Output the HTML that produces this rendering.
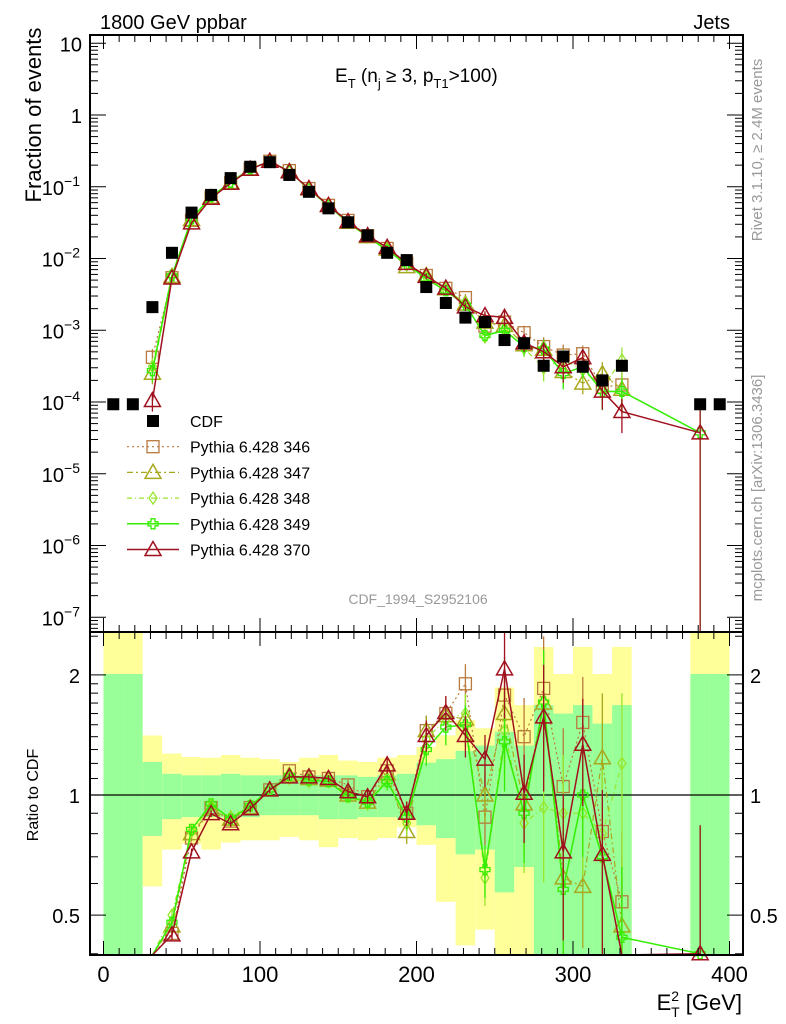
<!DOCTYPE html>
<html><head><meta charset="utf-8"><style>
html,body{margin:0;padding:0;background:#fff}
svg{display:block;font-family:"Liberation Sans",sans-serif}
</style></head><body>
<svg id="chart" width="786" height="1024" viewBox="0 0 786 1024" xmlns="http://www.w3.org/2000/svg">
<g id="bands"></g>
<g id="ratioSeries"></g>
<g id="mainSeries"></g>
<g id="axes"></g>
<text x="100" y="29" font-size="20">1800 GeV ppbar</text>
<text x="730" y="29" font-size="20" text-anchor="end">Jets</text>
<text transform="translate(41,115) rotate(-90)" font-size="22" text-anchor="middle">Fraction of events</text>
<text transform="translate(38,795) rotate(-90)" font-size="16" text-anchor="middle">Ratio to CDF</text>
<text transform="translate(762,150) rotate(-90)" font-size="15" fill="#999" text-anchor="middle">Rivet 3.1.10, ≥ 2.4M events</text>
<text transform="translate(762,488) rotate(-90)" font-size="15" fill="#999" text-anchor="middle">mcplots.cern.ch [arXiv:1306.3436]</text>
<text x="335" y="82" font-size="19">E<tspan font-size="13" dy="6">T</tspan><tspan dy="-6"> (n</tspan><tspan font-size="13" dy="6">j</tspan><tspan dy="-6"> ≥ 3, p</tspan><tspan font-size="13" dy="6">T1</tspan><tspan dy="-6">&gt;100)</tspan></text>
<text x="418" y="604" font-size="14" fill="#999" text-anchor="middle">CDF_1994_S2952106</text>
<text x="742" y="1010" font-size="22" text-anchor="end">E<tspan font-size="14" dy="-9">2</tspan><tspan font-size="14" dx="-8" dy="16">T</tspan><tspan dy="-7"> [GeV]</tspan></text>
<g id="legend"></g>
</svg>
<script>
const cdfX = [6.25,18.75,31.25,43.75,56.25,68.75,81.25,93.75,106.25,118.75,131.25,143.75,156.25,168.75,181.25,193.75,206.25,218.75,231.25,243.75,256.25,268.75,281.25,293.75,306.25,318.75,331.25,381.25,393.75];
const cdfY = [9.3e-5,9.3e-5,2.1e-3,1.2e-2,0.0436,0.077,0.132,0.19,0.22,0.146,0.085,0.05,0.032,0.021,0.012,0.0095,0.004,0.0024,0.0015,0.0013,7.3e-4,6.6e-4,3.2e-4,4.3e-4,3.1e-4,2.0e-4,3.2e-4,9.3e-5,9.3e-5];
const bandYTop = [3,3,1.41,1.27,1.245,1.24,1.26,1.24,1.23,1.21,1.24,1.26,1.22,1.21,1.24,1.26,1.32,1.41,1.54,1.47,1.86,1.68,2.35,2.01,2.35,2.01,2.35,3,3];
const bandGTop = [2.01,2.01,1.21,1.13,1.12,1.12,1.13,1.12,1.12,1.12,1.12,1.12,1.12,1.11,1.12,1.13,1.205,1.23,1.29,1.33,1.44,1.33,1.68,1.6,1.68,1.51,1.68,2.01,2.01];
const bandGBot = [0.3,0.3,0.79,0.87,0.88,0.88,0.88,0.88,0.89,0.89,0.89,0.87,0.87,0.88,0.88,0.87,0.84,0.78,0.71,0.73,0.57,0.66,0.3,0.3,0.3,0.3,0.3,0.3,0.3];
const bandYBot = [0.3,0.3,0.59,0.73,0.755,0.73,0.76,0.77,0.77,0.785,0.77,0.74,0.78,0.77,0.78,0.83,0.75,0.54,0.42,0.46,0.3,0.3,0.3,0.3,0.3,0.3,0.3,0.3,0.3];
const mcX = [31.25,43.75,56.25,68.75,81.25,93.75,106.25,118.75,131.25,143.75,156.25,168.75,181.25,193.75,206.25,218.75,231.25,243.75,256.25,268.75,281.25,293.75,306.25,318.75,331.25,381.25];
const r346 = [0.2,0.45,0.78,0.93,0.86,0.93,1.03,1.15,1.11,1.10,1.06,0.99,1.15,0.90,1.45,1.6,1.9,0.88,1.78,1.4,1.85,1.05,1.52,0.81,0.54,null];
const r347 = [0.12,0.47,0.80,0.92,0.87,0.93,1.03,1.12,1.10,1.09,1.00,0.96,1.13,0.81,1.45,1.58,1.55,1.0,1.6,0.95,1.7,0.62,0.59,1.24,0.47,null];
const r348 = [0.15,0.50,0.81,0.94,0.88,0.94,1.03,1.10,1.08,1.08,0.99,0.95,1.10,0.85,1.38,1.55,1.6,0.62,1.45,0.85,0.93,0.9,0.9,0.8,1.2,null];
const r349 = [0.13,0.48,0.82,0.95,0.87,0.94,1.03,1.12,1.09,1.08,0.99,0.96,1.08,0.88,1.3,1.48,1.5,0.65,1.36,0.9,1.71,0.58,1.0,0.7,0.44,0.4];
const r370 = [0.05,0.446,0.72,0.898,0.847,0.924,1.03,1.11,1.11,1.10,1.02,0.99,1.19,0.90,1.41,1.61,1.41,1.23,2.07,1.01,1.57,0.72,1.34,0.71,0.23,0.4];
const relErr = [0.3,0.03,0.02,0.02,0.02,0.02,0.02,0.02,0.02,0.02,0.03,0.04,0.05,0.07,0.09,0.1,0.12,0.15,0.25,0.25,0.35,0.4,0.3,0.45,0.5,1.1];
const seriesNames = ["Pythia 6.428 346","Pythia 6.428 347","Pythia 6.428 348","Pythia 6.428 349","Pythia 6.428 370"];
const xTickLabels = ["0","100","200","300","400"];

const NS="http://www.w3.org/2000/svg";
const L=90,R=743,T=35,MB=632,RB=955;
const X=v=>103.5+v*1.565;
const YM=v=>115-71.75*Math.log10(v);
const YR=v=>795-399*Math.log10(v);
function mk(tag,parent,attrs){const e=document.createElementNS(NS,tag);for(const k in attrs)e.setAttribute(k,attrs[k]);parent.appendChild(e);return e;}
const bands=document.getElementById('bands'),rs=document.getElementById('ratioSeries'),ms=document.getElementById('mainSeries'),ax=document.getElementById('axes'),lg=document.getElementById('legend');
cdfX.forEach((c,i)=>{
  const x0=X(c-6.25),x1=X(c+6.25);
  const yt=Math.max(MB,YR(bandYTop[i])),yb=Math.min(RB,YR(bandYBot[i]));
  const r1=mk('rect',bands,{x:x0,y:yt,width:x1-x0,height:yb-yt,fill:'#ffff99'});
  
  
  const gt=Math.max(MB,YR(bandGTop[i])),gb=Math.min(RB,YR(bandGBot[i]));
  const r2=mk('rect',bands,{x:x0,y:gt,width:x1-x0,height:gb-gt,fill:'#99ff99'});
  
  
});
const unity=mk('line',bands,{x1:L,x2:R,y1:YR(1),y2:YR(1),stroke:'#000','stroke-width':1.3});


const styles=[
 {c:'#b87a3d',d:'2,3',m:'square',w:1.2},
 {c:'#a8a81e',d:'6,3,2,3',m:'tri',w:1.2},
 {c:'#99e62e',d:'5,3,1,3',m:'diamond',w:1.2},
 {c:'#33ee00',d:'',m:'cross',w:1.5},
 {c:'#a0101e',d:'',m:'tri',w:1.5}];
const ratios=[r346,r347,r348,r349,r370];
function marker(g,kind,x,y,col){
  if(kind==='square')return mk('rect',g,{x:x-6,y:y-6,width:12,height:12,fill:'none',stroke:col,'stroke-width':1.3});
  if(kind==='tri')return mk('polygon',g,{points:`${x},${y-8} ${x-8},${y+6} ${x+8},${y+6}`,fill:'none',stroke:col,'stroke-width':1.5});
  if(kind==='diamond')return mk('polygon',g,{points:`${x},${y-6} ${x-4},${y} ${x},${y+6} ${x+4},${y}`,fill:'none',stroke:col,'stroke-width':1.3});
  return mk('path',g,{d:`M${x-2},${y-5}h4v3h3v4h-3v3h-4v-3h-3v-4h3z`,fill:'none',stroke:col,'stroke-width':1.3});
}
function drawSeries(parent,yf,clipTop,clipBot,isMain){
  ratios.forEach((rr,s)=>{
    const st=styles[s];
    const g=mk('g',parent,{});
    
    
    const pts=[];
    rr.forEach((r,i)=>{ if(r===null)return;
      const ci=cdfX.indexOf(mcX[i]);
      const v=isMain?cdfY[ci]*r:r;
      pts.push([X(mcX[i]),yf(v),yf(v*(1+relErr[i])),yf(Math.max(1e-9,v*(1-relErr[i])))]);
    });
    const cl=p=>Math.max(clipTop,Math.min(clipBot,p));
    const pl=mk('polyline',g,{points:pts.map(p=>p[0]+','+cl(p[1])).join(' '),fill:'none',stroke:st.c,'stroke-width':st.w,'stroke-dasharray':st.d});
    
    
    pts.forEach(p=>{
      if(p[1]>clipBot+1||p[1]<clipTop-1)return;
      mk('line',g,{x1:p[0],x2:p[0],y1:cl(p[2]),y2:cl(p[3]),stroke:st.c,'stroke-width':1.3});
      const m=marker(g,st.m,p[0],p[1],st.c);
      
      
    });
  });
}
drawSeries(rs,YR,MB,RB,false);
drawSeries(ms,YM,T,MB,true);
cdfX.forEach((c,i)=>{
  const m=mk('rect',ms,{x:X(c)-6,y:YM(cdfY[i])-6,width:12,height:12,fill:'#000'});
  
  
});
[[T,MB],[MB,RB]].forEach(([a,b])=>{const f=mk('rect',ax,{x:L,y:a,width:R-L,height:b-a,fill:'none',stroke:'#000','stroke-width':2});
 
 });
for(let v=0;v<=400;v+=10){const x=X(v),len=v%100===0?14:7;
 [[MB,1],[RB,-1],[T,1],[MB,-1]].forEach(([y,d])=>mk('line',ax,{x1:x,x2:x,y1:y,y2:y+d*len,stroke:'#000','stroke-width':1}));}
xTickLabels.forEach((t,i)=>{const e=mk('text',ax,{x:X(i*100),y:982,'font-size':22,'text-anchor':'middle'});e.textContent=t;
 
 });
for(let d=-8;d<=1;d++){for(let k=1;k<10;k++){const v=k*Math.pow(10,d);const y=YM(v);if(y<T||y>MB)continue;const len=k===1?16:8;
 mk('line',ax,{x1:L,x2:L+len,y1:y,y2:y,stroke:'#000'});mk('line',ax,{x1:R,x2:R-len,y1:y,y2:y,stroke:'#000'});}}
for(let d=-7;d<=1;d++){const y=YM(Math.pow(10,d))+8;const e=mk('text',ax,{x:82,y:y,'font-size':20,'text-anchor':'end'});
 
 
 if(d===0)e.textContent='1';else if(d===1)e.textContent='10';else{e.textContent='10';const ts=document.createElementNS(NS,'tspan');ts.setAttribute('font-size',14);ts.setAttribute('dy',-9);ts.textContent=String(d).replace('-','−');e.appendChild(ts);e.setAttribute('x',80);}}
const rt=[0.4,0.5,0.6,0.7,0.8,0.9,1,1.1,1.2,1.3,1.4,1.5,1.6,1.7,1.8,1.9,2,2.5];
rt.forEach(v=>{const y=YR(v);if(y<MB||y>RB)return;const len=(v===0.5||v===1||v===2)?16:8;
 mk('line',ax,{x1:L,x2:L+len,y1:y,y2:y,stroke:'#000'});mk('line',ax,{x1:R,x2:R-len,y1:y,y2:y,stroke:'#000'});});
[[2,'2'],[1,'1'],[0.5,'0.5']].forEach(([v,t])=>{[[80,'end'],[750,'start']].forEach(([x,a])=>{const e=mk('text',ax,{x:x,y:YR(v)+8,'font-size':20,'text-anchor':a});e.textContent=t;
 
 });});
const ly0=421,ldy=25.7;
const cdfM=mk('rect',lg,{x:147,y:ly0-6,width:12,height:12,fill:'#000'});


const ct=mk('text',lg,{x:190,y:ly0+6,'font-size':16});ct.textContent='CDF';


seriesNames.forEach((n,s)=>{const y=ly0+ldy*(s+1),st=styles[s];
 mk('line',lg,{x1:127,x2:179,y1:y,y2:y,stroke:st.c,'stroke-width':st.w,'stroke-dasharray':st.d});
 marker(lg,st.m,153,y,st.c);
 const t=mk('text',lg,{x:190,y:y+6,'font-size':16});t.textContent=n;
 
 });
</script>
</body></html>
